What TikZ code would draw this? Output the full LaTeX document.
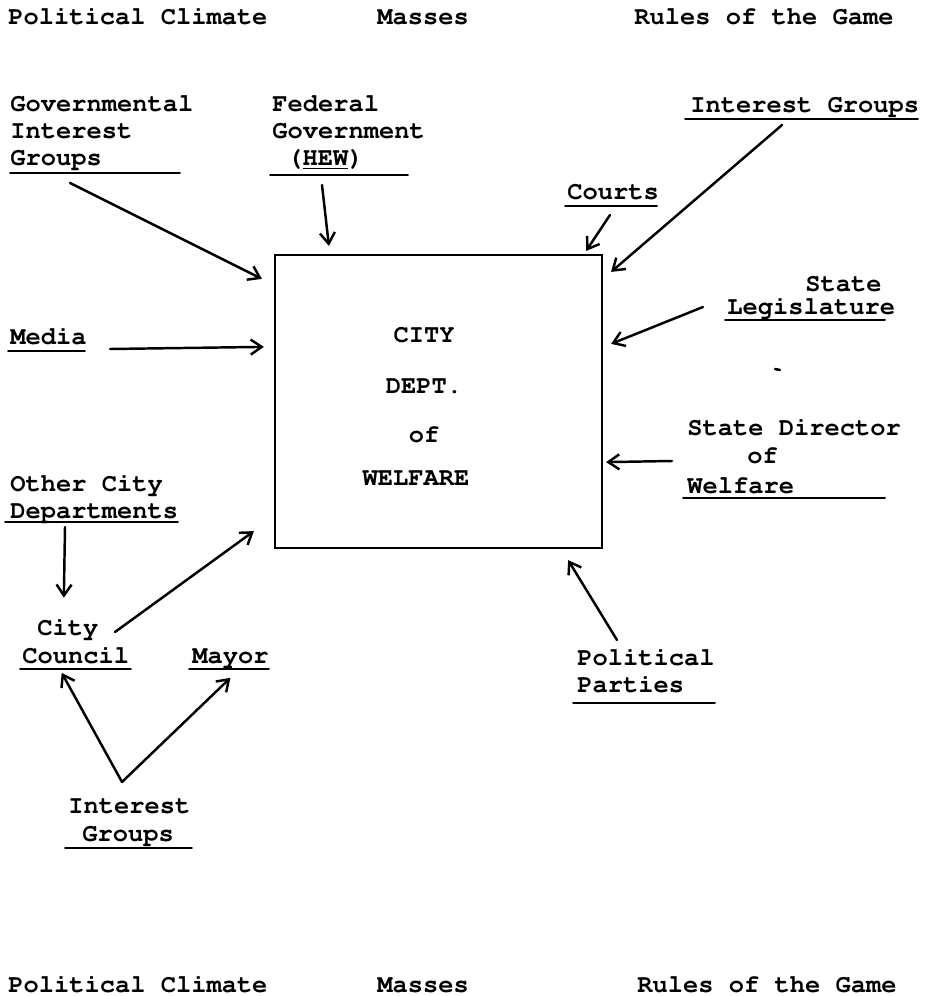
\documentclass[tikz,border=0pt]{standalone}
\usepackage[T1]{fontenc}
\usepackage{tikz}
\usetikzlibrary{arrows.meta}
\newcommand{\typed}{\fontencoding{T1}\fontfamily{pcr}\fontseries{b}\fontsize{14.46pt}{15pt}\selectfont}
\tikzset{>={Straight Barb[length=2.2mm,width=3mm]},
  lbl/.style={anchor=base west, inner sep=0pt, font=\typed},
  mid/.style={anchor=base, inner sep=0pt, font=\typed},
  uline/.style={line width=1.1pt},
  push/.style={->, line width=1.4pt}}

\begin{document}
\begin{tikzpicture}[x=0.02cm, y=-0.02cm, line cap=round]
    \useasboundingbox (0,0) rectangle (925,996);

    % header and footer
    \node[lbl] (pctop) at (8,25) {Political Climate};
    \node[lbl] (mstop) at (377,25) {Masses};
    \node[lbl] (rgtop) at (634,25) {Rules of the Game};
    \node[lbl] (pcbot) at (8,992) {Political Climate};
    \node[lbl] (msbot) at (377,992) {Masses};
    \node[lbl] (rgbot) at (637,992) {Rules of the Game};

    % the department
    \node[draw, line width=1.3pt, minimum width=6.54cm, minimum height=5.86cm,
      inner sep=0pt] (dept) at (438.5,401.5) {};
    \node[mid] (city) at (424,343) {CITY};
    \node[mid] (dpt) at (424,393) {DEPT.};
    \node[mid] (of) at (424,442) {of};
    \node[mid] (welf) at (416,485) {WELFARE};

    % labels
    \node[lbl] (gov1) at (10,112) {Governmental};
    \node[lbl] (gov2) at (10,139) {Interest};
    \node[lbl] (gov3) at (10,166) {Groups};
    \draw[uline] (10,173) -- (180,173);

    \node[lbl] (fed1) at (272,112) {Federal};
    \node[lbl] (fed2) at (272,139) {Government};
    \node[lbl] (fed3) at (287,166) {(\underline{HEW})};
    \draw[uline] (270,175) -- (408,175);

    \node[lbl] (courts) at (567,200) {Courts};
    \draw[uline] (565,206) -- (657,206);

    \node[lbl] (igtop) at (690,113) {Interest Groups};
    \draw[uline] (685,119) -- (918,119);

    \node[lbl] (leg1) at (805,292) {State};
    \node[lbl] (leg2) at (727,315) {Legislature};
    \draw[uline] (725,320) -- (885,320);
    \draw[line width=1.4pt] (775,369) -- (780,370);

    \node[lbl] (media) at (10,345) {Media};
    \draw[uline] (8,351) -- (85,351);

    \node[lbl] (dir1) at (687,435) {State Director};
    \node[lbl] (dir2) at (747,463) {of};
    \node[lbl] (dir3) at (687,493) {Welfare};
    \draw[uline] (683,498) -- (885,498);

    \node[lbl] (ocd1) at (10,491) {Other City};
    \node[lbl] (ocd2) at (10,518) {Departments};
    \draw[uline] (5,522) -- (178,522);

    \node[lbl] (cc1) at (37,635) {City};
    \node[lbl] (cc2) at (22,663) {Council};
    \draw[uline] (20,669) -- (131,669);
    \node[lbl] (mayor) at (192,663) {Mayor};
    \draw[uline] (189,669) -- (269,669);

    \node[lbl] (igbot1) at (68,813) {Interest};
    \node[lbl] (igbot2) at (82,841) {Groups};
    \draw[uline] (65,848) -- (192,848);

    \node[lbl] (pp1) at (577,665) {Political};
    \node[lbl] (pp2) at (577,692) {Parties};
    \draw[uline] (573,703) -- (715,703);

    % arrow ends
    \coordinate (govtail) at (70,183);
    \coordinate (fedtail) at (322,185);
    \coordinate (courtail) at (610,215);
    \coordinate (igtail) at (782,125);
    \coordinate (legtail) at (703,307);
    \coordinate (medtail) at (110,349);
    \coordinate (dirtail) at (672,461);
    \coordinate (ocdtail) at (65,527);
    \coordinate (cctail) at (115,632);
    \coordinate (igbtail) at (122,782);
    \coordinate (pptail) at (617,640);

    \draw[push] (govtail) -- ([shift={(-12,25)}]dept.north west);
    \draw[push] (fedtail) -- ([shift={(55,-8)}]dept.north west);
    \draw[push] (courtail) -- ([shift={(-17,-3)}]dept.north east);
    \draw[push] (igtail) -- ([shift={(8,18)}]dept.north east);
    \draw[push] (legtail) -- ([shift={(8,90)}]dept.north east);
    \draw[push] (medtail) -- ([shift={(-10,93)}]dept.north west);
    \draw[push] (dirtail) -- ([shift={(3,-87)}]dept.south east);
    \draw[push] (ocdtail) -- ([shift={(-4,-20)}]cc1.north);
    \draw[push] (cctail) -- ([shift={(-20,-18)}]dept.south west);
    \draw[push] (igbtail) -- ([shift={(-14,9)}]cc2.south);
    \draw[push] (igbtail) -- ([shift={(0,11)}]mayor.south);
    \draw[push] (pptail) -- ([shift={(-35,11)}]dept.south east);

\end{tikzpicture}
\end{document}
